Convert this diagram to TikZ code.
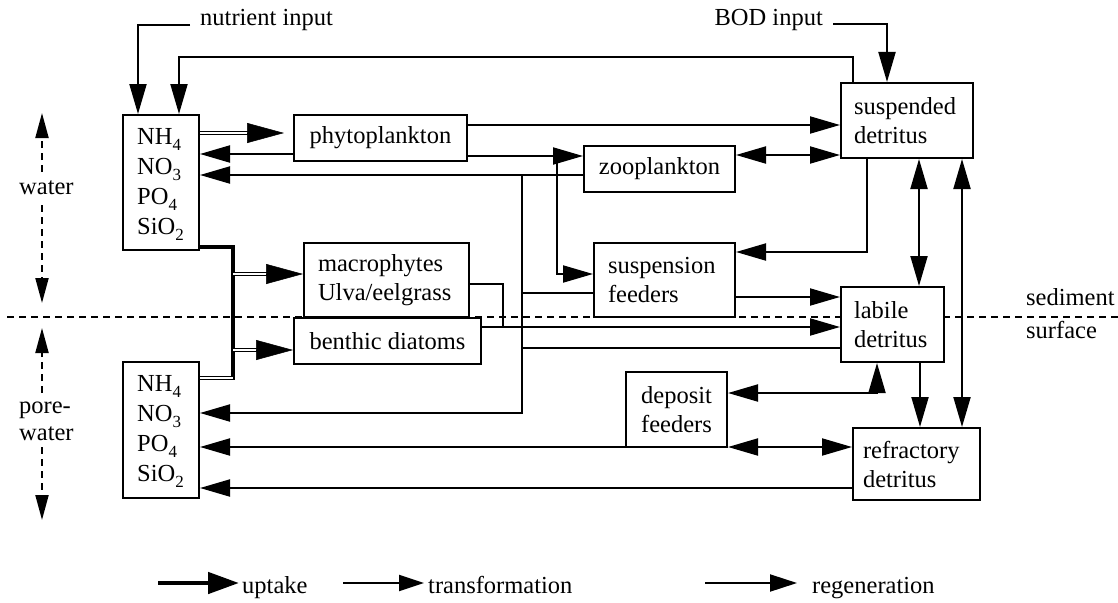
\documentclass[tikz,border=0pt]{standalone}
\usepackage{fontspec}
\setmainfont{Liberation Serif}
\usetikzlibrary{arrows.meta,calc}
\newcommand{\subs}[1]{\raisebox{-0.28em}{\fontsize{17}{17}\selectfont #1}}
\begin{document}
\begin{tikzpicture}[x=1pt,y=-1pt,
  every node/.style={font=\fontsize{24.5}{29}\selectfont, inner sep=0pt},
  box/.style={draw, line width=2pt, fill=white},
  chem/.style={box, minimum width=76pt},
  chemtext/.style={anchor=base west, align=left, font=\fontsize{24.5}{30}\selectfont},
  conn/.style={line width=2pt},
  tip/.style={-{Triangle[length=30pt,width=17pt]}},
  tips/.style={{Triangle[length=30pt,width=17pt]}-{Triangle[length=30pt,width=17pt]}},
  dbl/.style={double, double distance=2.2pt, line width=1.3pt},
  bigtip/.style={line width=0.5pt, -{Triangle[length=37pt,width=20pt]}},
  dsh/.style={line width=2pt, dash pattern=on 7pt off 5pt},
  dtip/.style={-{Triangle[length=25pt,width=13pt]}},
]
\useasboundingbox (0,0) rectangle (1118,602);

% sediment surface
\draw[dsh] (7,317) -- (1118,317);
\node[anchor=base west] (sed) at (1026,305) {sediment};
\node[anchor=base west] (sur) at (1026,338) {surface};

% boxes
\node[chem, minimum height=135pt] (up) at (161,182.5) {};
\node[chemtext] (upt) at (137,234) {NH\subs{4}\\NO\subs{3}\\PO\subs{4}\\SiO\subs{2}};
\node[chem, minimum height=136pt] (lo) at (161,430) {};
\node[chemtext] (lot) at (137,481) {NH\subs{4}\\NO\subs{3}\\PO\subs{4}\\SiO\subs{2}};
\node[box, minimum width=173pt, minimum height=46pt] (phyto) at (380.5,138) {phytoplankton};
\node[box, minimum width=151pt, minimum height=46pt] (zoo) at (659.5,169) {zooplankton};
\node[box, minimum width=132pt, minimum height=75pt, text width=106pt, align=left] (susd) at (907,120.5) {suspended\\detritus};
\node[box, minimum width=165pt, minimum height=74pt, text width=137pt, align=left] (macro) at (386.5,280) {macrophytes\\Ulva/eelgrass};
\node[box, minimum width=187pt, minimum height=46pt] (diat) at (387.5,341) {benthic diatoms};
\node[box, minimum width=141pt, minimum height=74pt, text width=113pt, align=left] (susf) at (664.5,280) {suspension\\feeders};
\node[box, minimum width=103pt, minimum height=75pt, text width=77pt, align=left] (lab) at (892.5,324.5) {labile\\detritus};
\node[box, minimum width=101pt, minimum height=75pt, align=center] (dep) at (676.5,409.5) {deposit\\feeders};
\node[box, minimum width=127pt, minimum height=72pt, text width=107pt, align=left] (ref) at (916.5,464) {refractory\\detritus};

% inputs
\node[anchor=base west] (nin) at (200,26) {nutrient input};
\draw[conn,tip] ([xshift=-10pt]nin.west |- 0,25) -| (up.north -| 138,0);
\node[anchor=base east] (bod) at (823,26) {BOD input};
\draw[conn,tip] ([xshift=10pt]bod.east |- 0,24) -| (susd.north -| 887,0);
\draw[conn,tip] (susd.north -| 853,0) -- (853,57) -| (up.north -| 179,0);

% uptake in water column
\coordinate (ph1) at ($(phyto.west |- 0,133)+(-9,0)$);
\draw[dbl] (up.east |- 0,133) -- ($(ph1)+(-30,0)$);
\draw[bigtip] ($(ph1)+(-36,0)$) -- (ph1);

% water column
\draw[conn,tip] (phyto.west |- 0,154) -- (up.east |- 0,154);
\draw[conn,tip] (zoo.west |- 0,175) -- (up.east |- 0,175);
\draw[conn,tip] (phyto.east |- 0,125) -- (susd.west |- 0,125);
\draw[conn,tip] (phyto.east |- 0,156) -- (zoo.west |- 0,156);
\draw[conn,tips] (zoo.east |- 0,155) -- (susd.west |- 0,155);
\draw[conn,tip] (557,156) |- (susf.west |- 0,274);
\draw[conn,tip] (susd.south -| 867,0) |- (susf.east |- 0,252);
\draw[conn,tip] (susf.east |- 0,297) -- (lab.west |- 0,297);

% regeneration collector
\draw[conn] (susf.west |- 0,293) -- (522,293);
\draw[conn] (lab.west |- 0,348) -- (522,348);
\draw[conn,tip] (522,176) |- (lo.east |- 0,413);

% benthic producers
\draw[conn] (macro.east |- 0,284) -| (503,327);
\draw[conn,tip] (diat.east |- 0,327) -- (lab.west |- 0,327);
\draw[line width=4pt] (up.east |- 0,247) -| (233,380);
\draw[dbl] (lo.east |- 0,378) -- (233,378);
\draw[dbl] (233,274) -- ($(macro.west |- 0,274)+(-30,0)$);
\draw[bigtip] ($(macro.west |- 0,274)+(-36,0)$) -- (macro.west |- 0,274);
\draw[dbl] (233,350) -- ($(diat.west |- 0,350)+(-30,0)$);
\draw[bigtip] ($(diat.west |- 0,350)+(-36,0)$) -- (diat.west |- 0,350);

% detritus
\draw[conn,tips] (susd.south -| 919,0) -- (lab.north -| 919,0);
\draw[conn,tips] (susd.south -| 962,0) -- (ref.north -| 962,0);
\draw[conn,tip] (lab.south -| 920,0) -- (ref.north -| 920,0);
\draw[conn,tips] (dep.east |- 0,393) -| (lab.south -| 877,0);
\draw[conn,tips] (dep.east |- 0,447) -- (ref.west |- 0,447);
\draw[conn,tip] (dep.west |- 0,447) -- (lo.east |- 0,447);
\draw[conn,tip] (ref.west |- 0,488) -- (lo.east |- 0,488);

% left labels
\node[anchor=west] (wat) at (19,188) {water};
\draw[dsh,dtip] (42,172) -- (42,113);
\draw[dsh,dtip] (42,205) -- (42,303);
\node[anchor=west, align=left, font=\fontsize{24.5}{27}\selectfont] (pw) at (19,421) {pore-\\water};
\draw[dsh,dtip] (42,393) -- (42,328);
\draw[dsh,dtip] (42,447) -- (42,520);

% legend
\coordinate (la) at (158,583); \coordinate (lb) at (239,583);
\draw[line width=4.7pt, -{Triangle[length=31pt,width=21pt]}] (la) -- (lb);
\node[anchor=base west] (lu) at (242,593) {uptake};
\coordinate (ta) at (343,583); \coordinate (tb) at (424,583);
\draw[conn, -{Triangle[length=25pt,width=16pt]}] (ta) -- (tb);
\node[anchor=base west] (lt) at (428,593) {transformation};
\coordinate (ra) at (705,583); \coordinate (rb) at (797,583);
\draw[conn, -{Triangle[length=27pt,width=17pt]}] (ra) -- (rb);
\node[anchor=base west] (lr) at (812,593) {regeneration};
\end{tikzpicture}
\end{document}
